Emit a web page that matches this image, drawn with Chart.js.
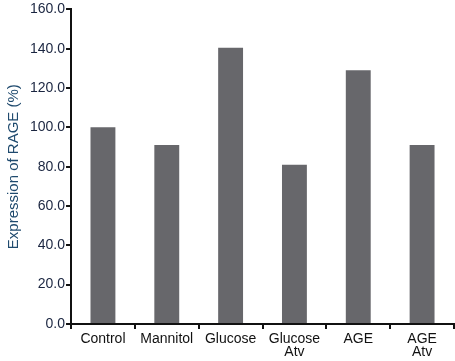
<!DOCTYPE html>
<html><head><meta charset="utf-8">
<script src="https://cdn.jsdelivr.net/npm/chart.js@4/dist/chart.umd.min.js"></script>
<style>html,body{margin:0;padding:0;background:#fff}</style>
</head><body>
<canvas id="c" width="455" height="361"></canvas>
<script>
const categories = [['Control'], ['Mannitol'], ['Glucose'], ['Glucose', 'Atv'], ['AGE'], ['AGE', 'Atv']];
const values = [100, 91, 140.5, 81, 129, 91];
const yTicks = [0, 20, 40, 60, 80, 100, 120, 140, 160];

new Chart(document.getElementById('c'), {
  type: 'bar',
  data: { labels: categories, datasets: [{ data: values, backgroundColor: '#67676b', categoryPercentage: 1, barPercentage: 0.39 }] },
  options: {
    responsive: false, animation: false,
    layout: { padding: { top: 5, right: 1, left: 5, bottom: -2 } },
    plugins: { legend: { display: false }, tooltip: { enabled: false } },
    scales: {
      x: {
        offset: true,
        grid: { offset: true, drawOnChartArea: false, color: '#111', lineWidth: 2, tickLength: 5 },
        border: { color: '#111', width: 2 },
        ticks: { color: '#111', font: { family: 'Liberation Sans', size: 14, lineHeight: 0.93 }, padding: 4, maxRotation: 0 }
      },
      y: {
        min: 0, max: 160,
        afterBuildTicks: (ax) => { ax.ticks = yTicks.map(v => ({ value: v })); },
        grid: { drawOnChartArea: false, color: '#111', lineWidth: 2, tickLength: 5 },
        border: { color: '#111', width: 2 },
        ticks: { color: '#1a2540', font: { family: 'Liberation Sans', size: 14 }, padding: 1, callback: (v) => Number(v).toFixed(1) },
        title: { display: true, text: 'Expression of RAGE (%)', color: '#1f4a6e', font: { family: 'Liberation Sans', size: 15 }, padding: { top: 0, bottom: 6 } }
      }
    }
  }
});
</script>
</body></html>
